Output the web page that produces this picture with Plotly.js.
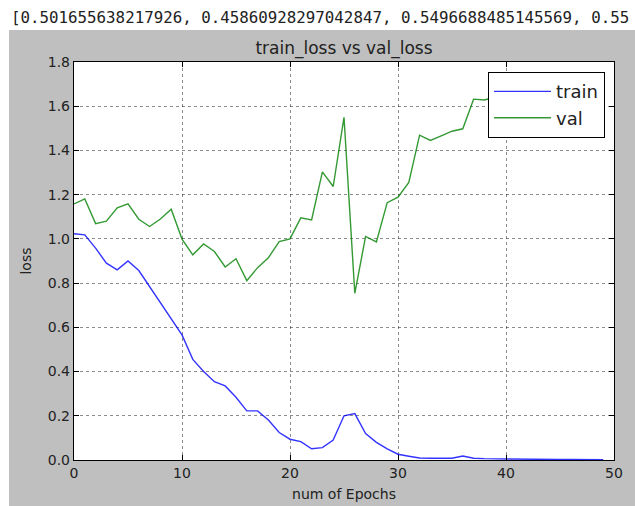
<!DOCTYPE html>
<html>
<head>
<meta charset="utf-8">
<script src="https://cdn.plot.ly/plotly-3.0.1.min.js"></script>
<style>
  html, body { margin: 0; padding: 0; background: #ffffff; width: 635px; height: 506px; overflow: hidden; }
  #txt { position: absolute; left: 11px; top: 8px; font-family: "DejaVu Sans Mono", monospace; font-size: 15.8px; color: #222; white-space: nowrap; }
  #plot { position: absolute; left: 9px; top: 30px; width: 626px; height: 476px; }
</style>
</head>
<body>
<div id="txt">[0.501655638217926, 0.45860928297042847, 0.5496688485145569, 0.55</div>
<div id="plot"></div>
<script>
const epochs = Array.from({length: 50}, (_, i) => i);
const trainLoss = [1.023, 1.018, 0.958, 0.890, 0.860, 0.900, 0.857, 0.784, 0.709, 0.633,
                   0.566, 0.455, 0.400, 0.354, 0.335, 0.284, 0.222, 0.222, 0.181, 0.124,
                   0.094, 0.083, 0.051, 0.056, 0.090, 0.200, 0.210, 0.120, 0.080, 0.050,
                   0.026, 0.017, 0.009, 0.008, 0.008, 0.008, 0.018, 0.008, 0.006, 0.005,
                   0.004, 0.004, 0.003, 0.003, 0.003, 0.002, 0.002, 0.002, 0.001, 0.001];
const valLoss = [1.158, 1.181, 1.069, 1.080, 1.140, 1.158, 1.089, 1.056, 1.090, 1.134,
                 0.999, 0.928, 0.977, 0.943, 0.873, 0.910, 0.811, 0.870, 0.915, 0.988,
                 1.000, 1.095, 1.086, 1.303, 1.237, 1.550, 0.754, 1.011, 0.986, 1.164,
                 1.189, 1.255, 1.469, 1.445, 1.466, 1.487, 1.498, 1.632, 1.628, 1.640,
                 1.655, 1.648, 1.672, 1.664, 1.681, 1.668, 1.690, 1.676, 1.688, 1.695];
const seriesNames = ["train", "val"];
const xTicks = [0, 10, 20, 30, 40, 50];
const yTicks = [0.0, 0.2, 0.4, 0.6, 0.8, 1.0, 1.2, 1.4, 1.6, 1.8];

const traces = [
  {x: epochs, y: trainLoss, name: seriesNames[0], type: 'scatter', mode: 'lines',
   line: {color: '#0000ff', width: 1.4}, opacity: 0.8},
  {x: epochs, y: valLoss, name: seriesNames[1], type: 'scatter', mode: 'lines',
   line: {color: '#008000', width: 1.4}, opacity: 0.8}
];

const axisCommon = {
  showline: true, linecolor: '#000', linewidth: 1.2, mirror: 'ticks',
  ticks: 'inside', ticklen: 5, tickcolor: '#000', tickwidth: 1,
  showgrid: true, gridcolor: 'rgba(0,0,0,0.45)', griddash: 'dot', gridwidth: 1,
  zeroline: false,
  tickfont: {family: 'DejaVu Sans', size: 14, color: '#222'}
};

const layout = {
  width: 626, height: 476,
  paper_bgcolor: '#bfbfbf', plot_bgcolor: '#ffffff',
  margin: {l: 65, r: 21, t: 32, b: 46},
  title: {text: 'train_loss vs val_loss', x: 0.5, xref: 'paper', y: 0.962, yref: 'container', yanchor: 'middle',
          font: {family: 'DejaVu Sans', size: 17, color: '#222'}},
  xaxis: Object.assign({}, axisCommon, {
    range: [0, 50], tickvals: xTicks, ticktext: xTicks.map(String),
    title: {text: 'num of Epochs', font: {family: 'DejaVu Sans', size: 14, color: '#222'}, standoff: 9}
  }),
  yaxis: Object.assign({}, axisCommon, {
    range: [0, 1.8], tickvals: yTicks, ticktext: yTicks.map(v => v.toFixed(1)),
    title: {text: 'loss', font: {family: 'DejaVu Sans', size: 14, color: '#222'}, standoff: 12}
  }),
  showlegend: true,
  legend: {x: 0.983, xanchor: 'right', y: 0.975, yanchor: 'top', bgcolor: '#ffffff',
           bordercolor: '#000', borderwidth: 1.2,
           font: {family: 'DejaVu Sans', size: 18, color: '#222'}, itemwidth: 57}
};

Plotly.newPlot('plot', traces, layout, {displayModeBar: false, staticPlot: true});
</script>
</body>
</html>
